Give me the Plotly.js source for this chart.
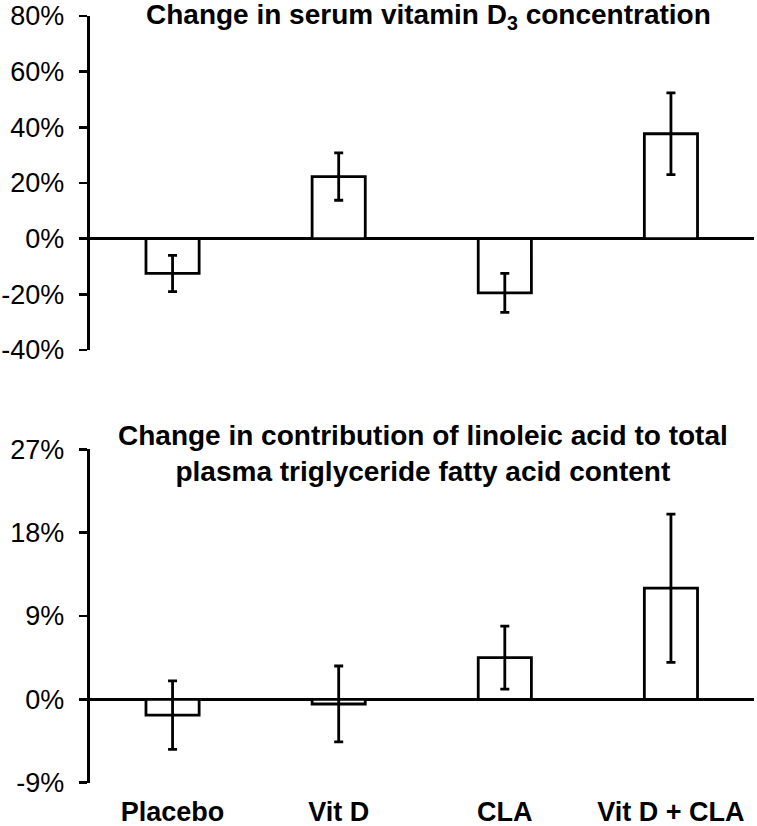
<!DOCTYPE html>
<html>
<head>
<meta charset="utf-8">
<script src="https://cdn.plot.ly/plotly-3.0.1.min.js"></script>
<style>html,body{margin:0;padding:0;background:#fff;}#chart{width:757px;height:826px;}</style>
</head>
<body>
<div id="chart"></div>
<script>
// Data
const categories = ["Placebo", "Vit D", "CLA", "Vit D + CLA"];
const vitD3Change = [-12.5, 22.3, -19.5, 37.7];
const vitD3Err = [6.5, 8.5, 7.0, 14.7];
const linoleicChange = [-1.7, -0.5, 4.5, 12.0];
const linoleicErr = [3.7, 4.1, 3.4, 8.0];
const topTickVals = [-40, -20, 0, 20, 40, 60, 80];
const topTickText = ["-40%", "-20%", "0%", "20%", "40%", "60%", "80%"];
const bottomTickVals = [-9, 0, 9, 18, 27];
const bottomTickText = ["-9%", "0%", "9%", "18%", "27%"];

const FONT = "Liberation Sans, Arial, sans-serif";
const W = 757, H = 826;
const px = x => x / W;
const py = y => 1 - y / H;

function barTrace(y, err, xa, ya) {
  return {
    type: "bar",
    x: categories,
    y: y,
    xaxis: xa,
    yaxis: ya,
    width: 0.32,
    marker: { color: "#ffffff", line: { color: "#000000", width: 2.8 } },
    error_y: { type: "data", array: err, visible: true, color: "#000000", thickness: 2.8, width: 4.5 },
    hoverinfo: "skip",
    showlegend: false
  };
}

const data = [
  barTrace(vitD3Change, vitD3Err, "x", "y"),
  barTrace(linoleicChange, linoleicErr, "x2", "y2")
];

const xDomain = [px(89.5), px(754)];
const yAxisCommon = {
  showgrid: false,
  showline: true,
  linecolor: "#000000",
  linewidth: 2.8,
  ticks: "outside",
  ticklen: 8,
  tickwidth: 2.8,
  tickcolor: "#000000",
  ticklabelstandoff: 9,
  zeroline: true,
  zerolinecolor: "#000000",
  zerolinewidth: 2.8,
  tickfont: { family: FONT, size: 27, color: "#000000" },
  fixedrange: true
};

const layout = {
  width: W,
  height: H,
  margin: { l: 0, r: 0, t: 0, b: 0 },
  paper_bgcolor: "#ffffff",
  plot_bgcolor: "#ffffff",
  font: { family: FONT, size: 27, color: "#000000" },
  xaxis: {
    domain: xDomain, anchor: "y", range: [-0.5, 3.5], type: "category",
    showline: false, showgrid: false, zeroline: false, showticklabels: false, ticks: ""
  },
  yaxis: Object.assign({}, yAxisCommon, {
    domain: [py(350), py(16)], anchor: "x", range: [-40, 80],
    tickvals: topTickVals, ticktext: topTickText
  }),
  xaxis2: {
    domain: xDomain, anchor: "y2", range: [-0.5, 3.5], type: "category",
    showline: false, showgrid: false, zeroline: false,
    ticks: "outside", ticklen: 5, tickcolor: "rgba(0,0,0,0)",
    tickfont: { family: FONT, size: 27, color: "#000000", weight: "bold" }
  },
  yaxis2: Object.assign({}, yAxisCommon, {
    domain: [py(782.7), py(449.3)], anchor: "x2", range: [-9, 27],
    tickvals: bottomTickVals, ticktext: bottomTickText
  }),
  annotations: [
    {
      text: "<b>Change in serum vitamin D<sub>3</sub> concentration</b>",
      xref: "paper", yref: "paper", x: px(429), y: py(17),
      xanchor: "center", yanchor: "middle", showarrow: false,
      font: { family: FONT, size: 28, color: "#000000" }
    },
    {
      text: "<b>Change in contribution of linoleic acid to total<br>plasma triglyceride fatty acid content</b>",
      xref: "paper", yref: "paper", x: px(423), y: py(453.5),
      xanchor: "center", yanchor: "middle", showarrow: false,
      font: { family: FONT, size: 28, color: "#000000" }
    }
  ]
};

Plotly.newPlot("chart", data, layout, { displayModeBar: false, staticPlot: true });
</script>
</body>
</html>
